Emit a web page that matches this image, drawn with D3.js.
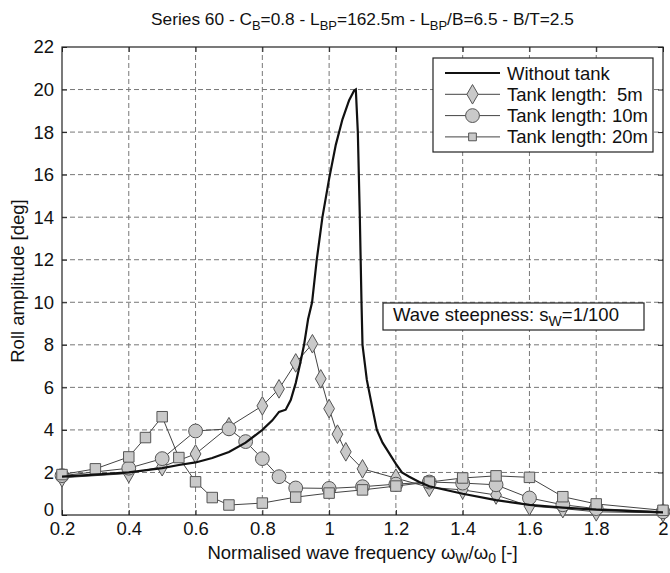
<!DOCTYPE html>
<html>
<head>
<meta charset="utf-8">
<script src="https://cdn.jsdelivr.net/npm/d3@7"></script>
<style>
  body { margin: 0; background: #fff; }
  svg text { font-family: "Liberation Sans", Arial, sans-serif; fill: #111; }
</style>
</head>
<body>
<div id="chart"></div>
<script>
const MARGIN = {left: 62, right: 7, top: 47, bottom: 58};
const WIDTH = 670 - MARGIN.left - MARGIN.right;
const HEIGHT = 573 - MARGIN.top - MARGIN.bottom;
const FONT = '18.5px';

const xTicks = [0.2, 0.4, 0.6, 0.8, 1, 1.2, 1.4, 1.6, 1.8, 2];
const yTicks = [0, 2, 4, 6, 8, 10, 12, 14, 16, 18, 20, 22];

// without tank
const noTankX = [0.2, 0.3, 0.4, 0.5, 0.55, 0.6, 0.65, 0.7, 0.75, 0.8, 0.83, 0.85, 0.87, 0.885, 0.9, 0.913, 0.925, 0.937, 0.949, 0.963, 0.98, 1.0, 1.02, 1.04, 1.06, 1.075, 1.08, 1.086, 1.092, 1.097, 1.1, 1.113, 1.13, 1.143, 1.16, 1.176, 1.2, 1.218, 1.24, 1.27, 1.3, 1.4, 1.5, 1.6, 1.7, 1.8, 2.0];
const noTankY = [1.8, 1.9, 2.0, 2.2, 2.35, 2.47, 2.68, 2.96, 3.4, 4.0, 4.45, 4.85, 4.95, 5.4, 6.2, 7.1, 8.0, 9.2, 10.0, 12.0, 14.0, 15.8, 17.4, 18.6, 19.5, 19.95, 20.0, 18.0, 14.0, 10.0, 8.0, 6.35, 5.0, 4.0, 3.4, 3.0, 2.4, 2.0, 1.8, 1.55, 1.35, 1.0, 0.7, 0.48, 0.35, 0.25, 0.12];

// tank length 5m
const tank5X = [0.2, 0.4, 0.5, 0.6, 0.7, 0.8, 0.85, 0.9, 0.95, 0.975, 1.0, 1.025, 1.05, 1.1, 1.2, 1.3, 1.4, 1.5, 1.6, 1.7, 1.8, 2.0];
const tank5Y = [1.75, 1.95, 2.27, 2.87, 4.15, 5.13, 5.93, 7.15, 8.05, 6.4, 5.0, 3.8, 2.97, 2.17, 1.73, 1.3, 1.18, 0.94, 0.42, 0.3, 0.15, 0.1];

// tank length 10m
const tank10X = [0.2, 0.4, 0.5, 0.6, 0.7, 0.75, 0.8, 0.85, 0.9, 1.0, 1.1, 1.2, 1.3, 1.4, 1.5, 1.6, 1.7, 1.8, 2.0];
const tank10Y = [1.85, 2.2, 2.65, 3.95, 4.05, 3.45, 2.65, 1.8, 1.27, 1.25, 1.33, 1.45, 1.55, 1.5, 1.42, 0.8, 0.48, 0.3, 0.15];

// tank length 20m
const tank20X = [0.2, 0.3, 0.4, 0.45, 0.5, 0.55, 0.6, 0.65, 0.7, 0.8, 0.9, 1.0, 1.1, 1.2, 1.3, 1.4, 1.5, 1.6, 1.7, 1.8, 2.0];
const tank20Y = [1.9, 2.17, 2.73, 3.64, 4.62, 2.7, 1.56, 0.82, 0.47, 0.56, 0.84, 1.03, 1.18, 1.36, 1.55, 1.74, 1.84, 1.77, 0.86, 0.52, 0.22];

const legendLabels = ['Without tank', 'Tank length:  5m', 'Tank length: 10m', 'Tank length: 20m'];

const svg = d3.select('#chart').append('svg')
    .attr('width', WIDTH + MARGIN.left + MARGIN.right)
    .attr('height', HEIGHT + MARGIN.top + MARGIN.bottom);

const g = svg.append('g')
    .attr('transform', `translate(${MARGIN.left},${MARGIN.top})`);

const x = d3.scaleLinear().domain([0.2, 2]).range([0, WIDTH]);
const y = d3.scaleLinear().domain([0, 22]).range([HEIGHT, 0]);

// grid
g.append('g').selectAll('line').data(xTicks.slice(1, -1)).join('line')
    .attr('x1', d => x(d)).attr('x2', d => x(d))
    .attr('y1', 0).attr('y2', HEIGHT)
    .attr('stroke', '#777').attr('stroke-dasharray', '5,3');
g.append('g').selectAll('line').data(yTicks.slice(1, -1)).join('line')
    .attr('x1', 0).attr('x2', WIDTH)
    .attr('y1', d => y(d)).attr('y2', d => y(d))
    .attr('stroke', '#777').attr('stroke-dasharray', '5,3');

// axes (ticks inside, matlab style)
const xAxis = g.append('g').attr('transform', `translate(0,${HEIGHT})`)
    .call(d3.axisBottom(x).tickValues(xTicks).tickSize(-5).tickPadding(7).tickFormat(d3.format('~g')));
const xAxisTop = g.append('g')
    .call(d3.axisTop(x).tickValues(xTicks).tickSize(-5).tickFormat(''));
const yAxis = g.append('g')
    .call(d3.axisLeft(y).tickValues(yTicks).tickSize(-5).tickPadding(8));
const yAxisRight = g.append('g').attr('transform', `translate(${WIDTH},0)`)
    .call(d3.axisRight(y).tickValues(yTicks).tickSize(-5).tickFormat(''));

[xAxis, xAxisTop, yAxis, yAxisRight].forEach(a => {
    a.select('.domain').remove();
    a.selectAll('line').attr('stroke', '#222');
    a.selectAll('text').attr('font-size', FONT).attr('fill', '#111')
        .attr('font-family', '"Liberation Sans", Arial, sans-serif');
});
// lift the "0" label a little so it clears "0.2"
yAxis.selectAll('.tick text').filter(d => d === 0).attr('dy', '0.02em');

g.append('rect')
    .attr('width', WIDTH).attr('height', HEIGHT)
    .attr('fill', 'none').attr('stroke', '#222').attr('stroke-width', 1.2);

// series
const line = d3.line().x(d => x(d[0])).y(d => y(d[1]));
const zipPts = (xs, ys) => xs.map((v, i) => [v, ys[i]]);

const MARK_FILL = '#c9c9c9';
const MARK_STROKE = '#555';

function drawSeries(pts, shape, size) {
    g.append('path').datum(pts)
        .attr('d', line)
        .attr('fill', 'none').attr('stroke', '#444').attr('stroke-width', 1);
    g.append('g').selectAll('path').data(pts).join('path')
        .attr('transform', d => `translate(${x(d[0])},${y(d[1])})`)
        .attr('d', d3.symbol().type(shape).size(size))
        .attr('fill', MARK_FILL).attr('stroke', MARK_STROKE).attr('stroke-width', 1);
}

drawSeries(zipPts(tank5X, tank5Y), d3.symbolDiamond, 100);
drawSeries(zipPts(tank10X, tank10Y), d3.symbolCircle, 150);
drawSeries(zipPts(tank20X, tank20Y), d3.symbolSquare, 110);

g.append('path').datum(zipPts(noTankX, noTankY))
    .attr('d', line)
    .attr('fill', 'none').attr('stroke', '#111').attr('stroke-width', 2.2);

// legend
const legend = g.append('g').attr('transform', `translate(${433 - MARGIN.left},${58 - MARGIN.top})`);
legend.append('rect')
    .attr('width', 220).attr('height', 94)
    .attr('fill', '#fff').attr('stroke', '#222').attr('stroke-width', 1.2);

const legendShapes = [null, d3.symbolDiamond, d3.symbolCircle, d3.symbolSquare];
const legendSizes = [0, 110, 150, 60];
legendLabels.forEach((lab, i) => {
    const row = legend.append('g').attr('transform', `translate(0,${15 + i * 21.3})`);
    row.append('line')
        .attr('x1', 12).attr('x2', 67)
        .attr('stroke', i === 0 ? '#111' : '#444')
        .attr('stroke-width', i === 0 ? 2.2 : 1);
    if (legendShapes[i]) {
        row.append('path')
            .attr('transform', 'translate(39.5,0)')
            .attr('d', d3.symbol().type(legendShapes[i]).size(legendSizes[i]))
            .attr('fill', MARK_FILL).attr('stroke', MARK_STROKE);
    }
    row.append('text')
        .attr('x', 74).attr('y', 6.5)
        .attr('font-size', FONT)
        .style('white-space', 'pre')
        .text(lab);
});

// wave steepness box
const steep = g.append('g').attr('transform', `translate(${383 - MARGIN.left},${303 - MARGIN.top})`);
steep.append('rect')
    .attr('width', 261).attr('height', 27)
    .attr('fill', '#fff').attr('stroke', '#222').attr('stroke-width', 1.2);
const stTxt = steep.append('text').attr('x', 10).attr('y', 18).attr('font-size', FONT);
stTxt.append('tspan').text('Wave steepness: s');
stTxt.append('tspan').attr('dy', 5).attr('font-size', '14px').text('W');
stTxt.append('tspan').attr('dy', -5).text('=1/100');

// title
const title = svg.append('text')
    .attr('x', MARGIN.left + WIDTH / 2).attr('y', 25)
    .attr('text-anchor', 'middle').attr('font-size', '17.3px');
title.append('tspan').text('Series 60 - C');
title.append('tspan').attr('dy', 5).attr('font-size', '13px').text('B');
title.append('tspan').attr('dy', -5).text('=0.8 - L');
title.append('tspan').attr('dy', 5).attr('font-size', '13px').text('BP');
title.append('tspan').attr('dy', -5).text('=162.5m - L');
title.append('tspan').attr('dy', 5).attr('font-size', '13px').text('BP');
title.append('tspan').attr('dy', -5).text('/B=6.5 - B/T=2.5');

// x label
const xl = svg.append('text')
    .attr('x', MARGIN.left + WIDTH / 2).attr('y', 559)
    .attr('text-anchor', 'middle').attr('font-size', FONT);
xl.append('tspan').text('Normalised wave frequency \u03c9');
xl.append('tspan').attr('dy', 4).attr('font-size', '14px').text('W');
xl.append('tspan').attr('dy', -4).text('/\u03c9');
xl.append('tspan').attr('dy', 4).attr('font-size', '14px').text('0');
xl.append('tspan').attr('dy', -4).text(' [-]');

// y label
svg.append('text')
    .attr('transform', `translate(24,${MARGIN.top + HEIGHT / 2}) rotate(-90)`)
    .attr('text-anchor', 'middle').attr('font-size', FONT)
    .text('Roll amplitude [deg]');
</script>
</body>
</html>
